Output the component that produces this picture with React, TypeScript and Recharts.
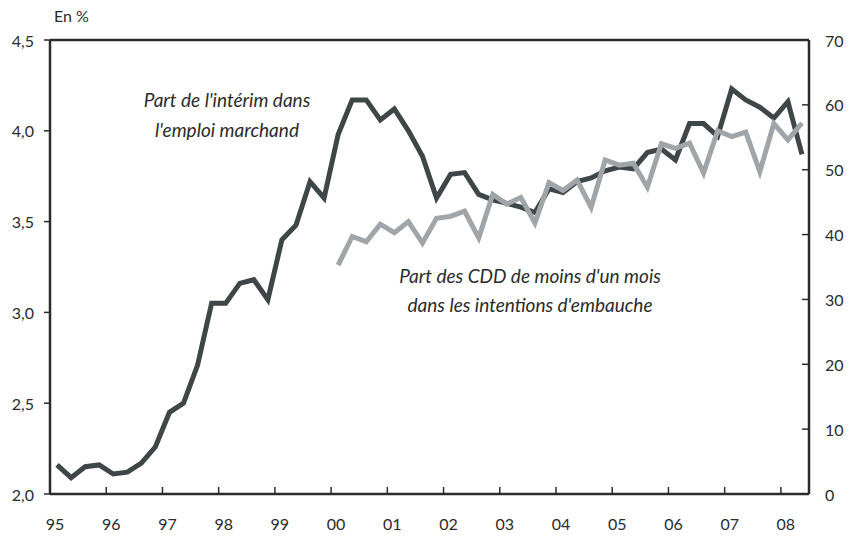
import { LineChart, Line, XAxis, YAxis, ReferenceLine } from "recharts";

// trimestres 1995T1 .. 2008T2
const firstYear = 1995;
const quarterCount = 54;
const quarters = Array.from({ length: quarterCount }, (_, i) => firstYear + Math.floor(i / 4) + ((i % 4) + 0.5) / 4);

// Part de l'intérim dans l'emploi marchand (%, axe gauche)
const interim = [
  2.16, 2.09, 2.15, 2.16, 2.11, 2.12, 2.17, 2.26,
  2.45, 2.5, 2.71, 3.05, 3.05, 3.16, 3.18, 3.07,
  3.4, 3.48, 3.72, 3.63, 3.98, 4.17, 4.17, 4.06,
  4.12, 4.0, 3.86, 3.63, 3.76, 3.77, 3.65, 3.62,
  3.6, 3.58, 3.55, 3.68, 3.66, 3.72, 3.74, 3.78,
  3.8, 3.79, 3.88, 3.9, 3.84, 4.04, 4.04, 3.97,
  4.23, 4.17, 4.13, 4.07, 4.16, 3.87,
];

// Part des CDD de moins d'un mois dans les intentions d'embauche (%, axe droit), depuis 2000T1
const cddStart = 20;
const cdd = [
  35.3, 39.7, 38.9, 41.6, 40.3, 42.0, 38.7, 42.5,
  42.8, 43.6, 39.5, 46.2, 44.7, 45.7, 41.8, 48.0,
  46.8, 48.4, 44.2, 51.5, 50.7, 51.0, 47.3, 54.0,
  53.3, 54.1, 49.5, 56.0, 55.1, 55.8, 49.7, 57.1,
  54.6, 57.2,
];

const yearTicks = [1995, 1996, 1997, 1998, 1999, 2000, 2001, 2002, 2003, 2004, 2005, 2006, 2007, 2008];
const leftTicks = [2.0, 2.5, 3.0, 3.5, 4.0, 4.5];
const rightTicks = [0, 10, 20, 30, 40, 50, 60, 70];

const data = quarters.map((x, i) => ({
  x,
  interim: interim[i],
  cdd: i >= cddStart ? cdd[i - cddStart] : null,
}));

const ink = "#2b2b2b";
const darkLine = "#3e4648";
const greyLine = "#9fa5a9";
const font = "Lato, 'Open Sans', sans-serif";

// plot frame (chart margins + axis widths below)
const W = 852;
const H = 538;
const plotLeft = 50;
const plotRight = 809;
const plotBottom = 494;

// hand-drawn ticks: only the coordinate along the axis comes from recharts
const YearTick = ({ x, payload }: any) => (
  <g>
    <line x1={x} x2={x} y1={plotBottom - 7} y2={plotBottom} stroke={ink} strokeWidth={1.5} />
    <text x={x + 5} y={plotBottom + 29} textAnchor="middle" dominantBaseline="central" fill={ink} fontSize={16} fontFamily={font}>
      {String(payload.value).slice(2)}
    </text>
  </g>
);

const LeftTick = ({ y, payload }: any) => (
  <g>
    <line x1={plotLeft - 6} x2={plotLeft} y1={y} y2={y} stroke={ink} strokeWidth={1.5} />
    <text x={plotLeft - 16} y={y} textAnchor="end" dominantBaseline="central" fill={ink} fontSize={16} fontFamily={font}>
      {payload.value.toFixed(1).replace(".", ",")}
    </text>
  </g>
);

const RightTick = ({ y, payload }: any) => (
  <g>
    <line x1={plotRight - 7} x2={plotRight} y1={y} y2={y} stroke={ink} strokeWidth={1.5} />
    <text x={plotRight + 16} y={y} textAnchor="start" dominantBaseline="central" fill={ink} fontSize={16} fontFamily={font}>
      {payload.value}
    </text>
  </g>
);

export default function App() {
  return (
    <div style={{ position: "relative", width: W, height: H, margin: -8, fontFamily: font }}>
      <LineChart width={W} height={H} data={data} margin={{ top: 40, right: 0, bottom: 14, left: 0 }}>
        <XAxis
          dataKey="x"
          type="number"
          domain={[1995, 2008.5]}
          ticks={yearTicks}
          height={30}
          stroke={ink}
          strokeWidth={2.5}
          tickLine={false}
          tick={<YearTick />}
        />
        <YAxis
          yAxisId="left"
          domain={[2, 4.5]}
          ticks={leftTicks}
          width={plotLeft}
          stroke={ink}
          strokeWidth={2.5}
          tickLine={false}
          tick={<LeftTick />}
        />
        <YAxis
          yAxisId="right"
          orientation="right"
          domain={[0, 70]}
          ticks={rightTicks}
          width={W - plotRight}
          stroke={ink}
          strokeWidth={2.5}
          tickLine={false}
          tick={<RightTick />}
        />
        <ReferenceLine yAxisId="left" y={4.5} stroke={ink} strokeWidth={2.5} />
        <Line
          yAxisId="left"
          dataKey="interim"
          stroke={darkLine}
          strokeWidth={5}
          dot={false}
          isAnimationActive={false}
        />
        <Line
          yAxisId="right"
          dataKey="cdd"
          stroke={greyLine}
          strokeWidth={5}
          dot={false}
          isAnimationActive={false}
        />
      </LineChart>
      <div style={{ position: "absolute", left: 54, top: 6, fontSize: 16, color: ink }}>En %</div>
      <div
        style={{
          position: "absolute",
          left: 97,
          top: 85,
          width: 260,
          textAlign: "center",
          fontStyle: "italic",
          fontSize: 19,
          lineHeight: "30px",
          color: ink,
        }}
      >
        Part de l'intérim dans
        <br />
        l'emploi marchand
      </div>
      <div
        style={{
          position: "absolute",
          left: 370,
          top: 261,
          width: 320,
          textAlign: "center",
          fontStyle: "italic",
          fontSize: 19,
          lineHeight: "29px",
          color: ink,
        }}
      >
        Part des CDD de moins d'un mois
        <br />
        dans les intentions d'embauche
      </div>
    </div>
  );
}
